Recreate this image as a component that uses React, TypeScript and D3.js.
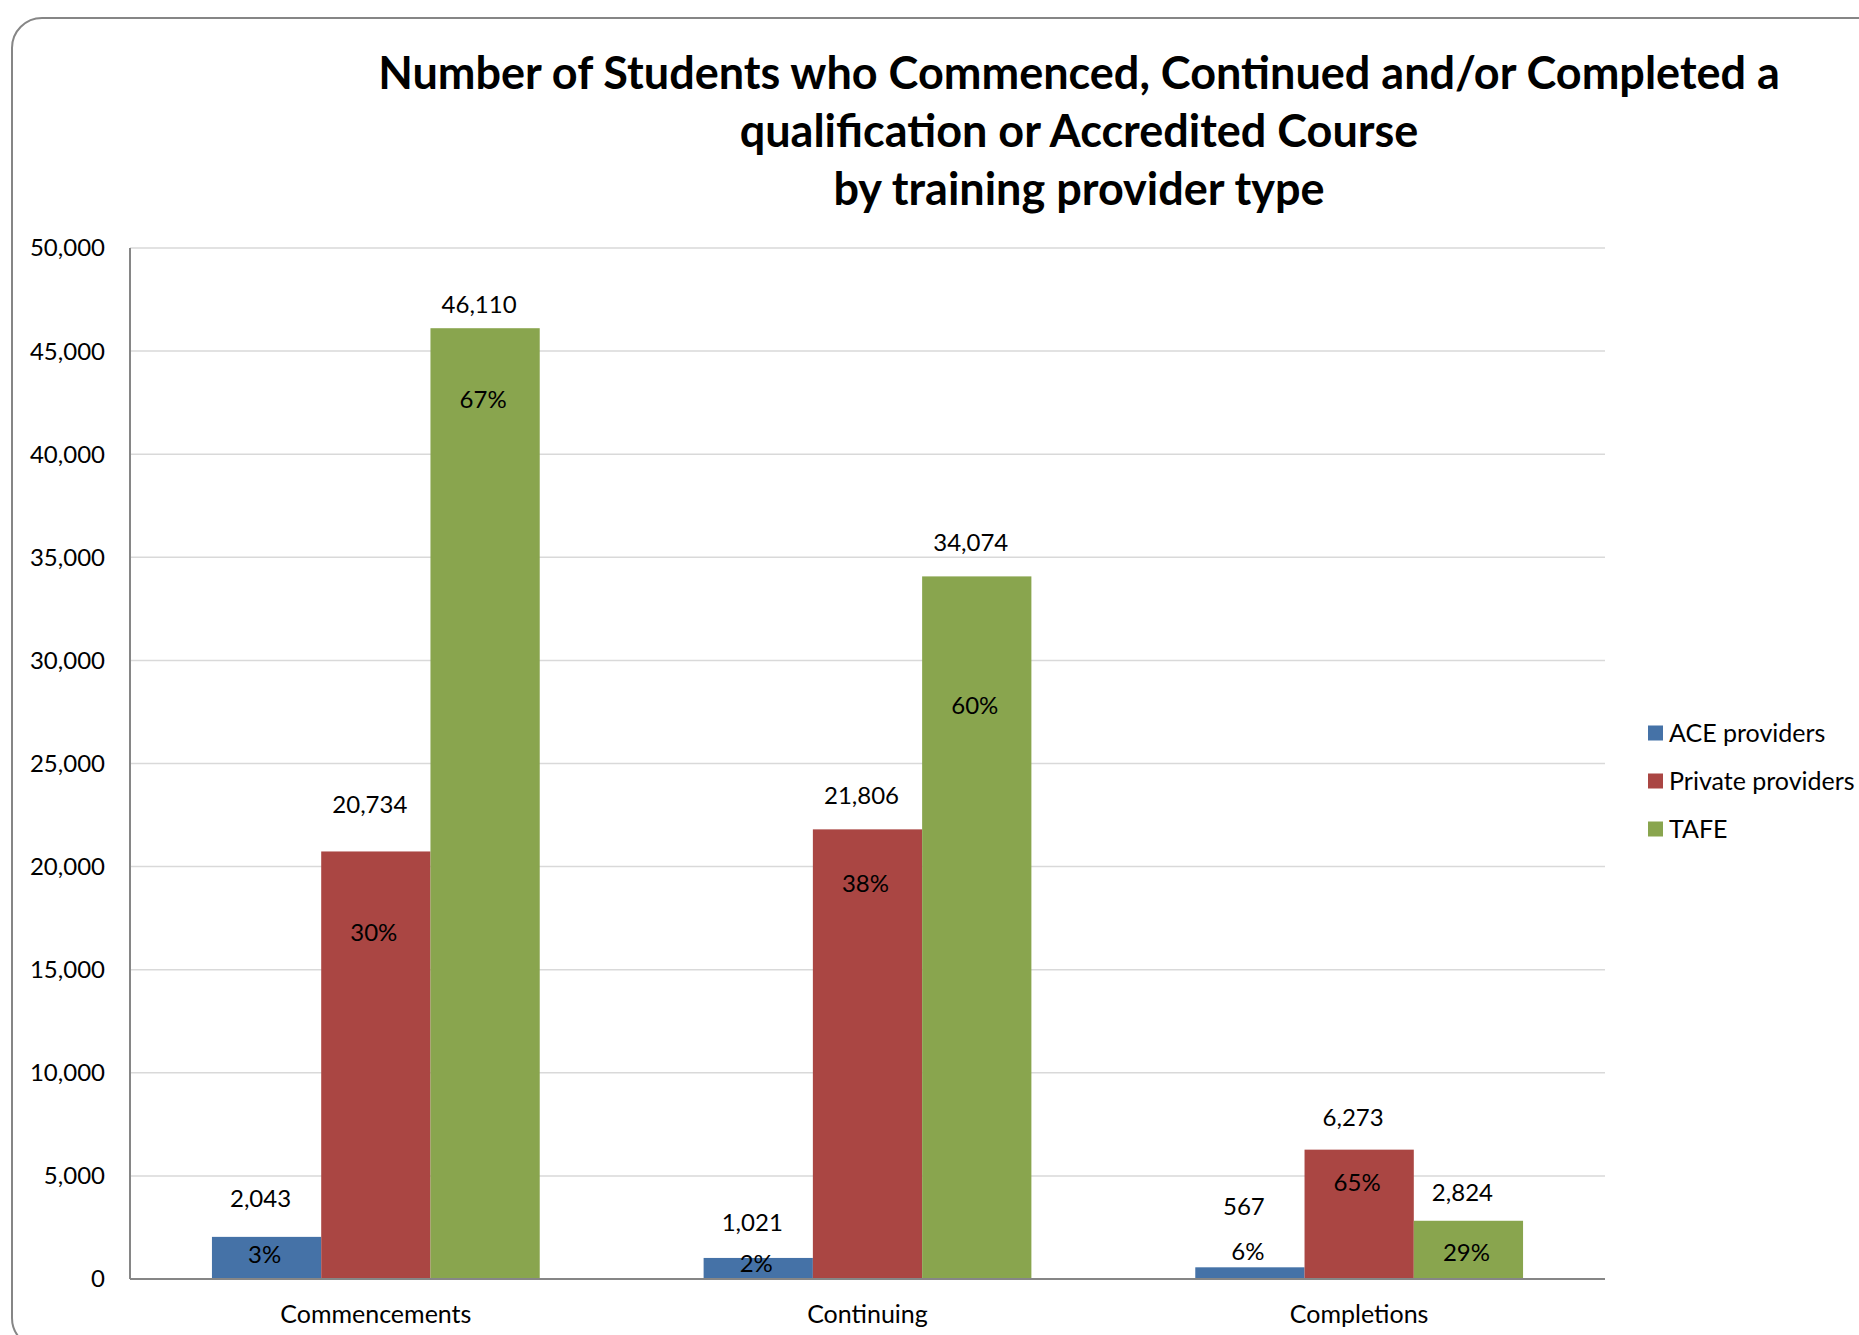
import React from "react";
import * as d3 from "d3";

const categories = ["Commencements", "Continuing", "Completions"];
const seriesNames = ["ACE providers", "Private providers", "TAFE"];
const aceValues = [2043, 1021, 567];
const privateValues = [20734, 21806, 6273];
const tafeValues = [46110, 34074, 2824];
const acePct = ["3%", "2%", "6%"];
const privatePct = ["30%", "38%", "65%"];
const tafePct = ["67%", "60%", "29%"];
// label anchors in axis units
const aceValueLabelAt = [3908, 2759, 3506];
const privateValueLabelAt = [22989, 23448, 7816];
const tafeValueLabelAt = [47241, 35690, 4195];
const acePctLabelAt = [1207, 747, 1322];
const privatePctLabelAt = [16782, 19195, 4655];
const tafePctLabelAt = [42644, 27816, 1264];
const yTicks = [0, 5000, 10000, 15000, 20000, 25000, 30000, 35000, 40000, 45000, 50000];
const titleLines = [
  "Number of Students who Commenced, Continued and/or Completed a",
  "qualification or Accredited Course",
  "by training provider type",
];

const colors = ["#4572A7", "#AA4643", "#89A54E"];
const FONT = "Lato, 'Open Sans', sans-serif";

export default function App() {
  const W = 1859;
  const H = 1335;
  const left = 130;
  const right = 1605;
  const top = 248;
  const bottom = 1279;

  const series = [
    { name: seriesNames[0], values: aceValues, pct: acePct, vAt: aceValueLabelAt, pAt: acePctLabelAt },
    { name: seriesNames[1], values: privateValues, pct: privatePct, vAt: privateValueLabelAt, pAt: privatePctLabelAt },
    { name: seriesNames[2], values: tafeValues, pct: tafePct, vAt: tafeValueLabelAt, pAt: tafePctLabelAt },
  ];

  const x0 = d3.scaleBand<string>().domain(categories).range([left, right]).paddingInner(0).paddingOuter(0);
  const bw = x0.bandwidth();
  const barW = bw / 4.5;
  const x1 = d3
    .scaleBand<string>()
    .domain(seriesNames)
    .range([bw * 0.75 / 4.5, bw * 0.75 / 4.5 + barW * 3]);
  const y = d3.scaleLinear().domain([0, 50000]).range([bottom, top]);
  const fmt = d3.format(",");

  return (
    <svg
      width={W}
      height={H}
      style={{ position: "absolute", left: 0, top: 0, display: "block", background: "#fff" }}
    >
      <rect x={12} y={18} width={1900} height={1330} rx={30} ry={30} fill="#fff" stroke="#868686" strokeWidth={2} />
      {titleLines.map((t, i) => (
        <text
          key={i}
          x={1079}
          y={89 + i * 58}
          textAnchor="middle"
          fontFamily={FONT}
          fontWeight="bold"
          fontSize={45}
          fill="#000"
        >
          {t}
        </text>
      ))}
      {yTicks.map((t) => (
        <g key={t}>
          {t > 0 && (
            <line x1={left} x2={right} y1={y(t)} y2={y(t)} stroke="#d9d9d9" strokeWidth={1.5} />
          )}
          <text
            x={105}
            y={y(t)}
            dy="0.35em"
            textAnchor="end"
            fontFamily={FONT}
            fontSize={24}
            fill="#000"
          >
            {fmt(t)}
          </text>
        </g>
      ))}
      {categories.map((c, ci) => (
        <g key={c} transform={`translate(${x0(c)},0)`}>
          {series.map((s) => (
            <rect
              key={s.name}
              x={x1(s.name)}
              y={y(s.values[ci])}
              width={barW}
              height={bottom - y(s.values[ci])}
              fill={colors[seriesNames.indexOf(s.name)]}
            />
          ))}
          {series.map((s) => (
            <g key={s.name + "l"}>
              <text
                x={(x1(s.name) as number) + barW / 2 - 6}
                y={y(s.vAt[ci])}
                dy="0.35em"
                textAnchor="middle"
                fontFamily={FONT}
                fontSize={24}
                fill="#000"
              >
                {fmt(s.values[ci])}
              </text>
              <text
                x={(x1(s.name) as number) + barW / 2 - 2}
                y={y(s.pAt[ci])}
                dy="0.35em"
                textAnchor="middle"
                fontFamily={FONT}
                fontSize={24}
                fill="#000"
              >
                {s.pct[ci]}
              </text>
            </g>
          ))}
          <text
            x={bw / 2}
            y={1314}
            dy="0.35em"
            textAnchor="middle"
            fontFamily={FONT}
            fontSize={25}
            fill="#000"
          >
            {c}
          </text>
        </g>
      ))}
      <line x1={left} x2={left} y1={top} y2={bottom} stroke="#868686" strokeWidth={2} />
      <line x1={left} x2={right} y1={bottom} y2={bottom} stroke="#868686" strokeWidth={2} />
      {seriesNames.map((n, i) => (
        <g key={n} transform={`translate(1648,${733 + i * 48})`}>
          <rect x={0} y={-7.5} width={15} height={15} fill={colors[i]} />
          <text x={21} y={0} dy="0.35em" fontFamily={FONT} fontSize={25} fill="#000">
            {n}
          </text>
        </g>
      ))}
    </svg>
  );
}
